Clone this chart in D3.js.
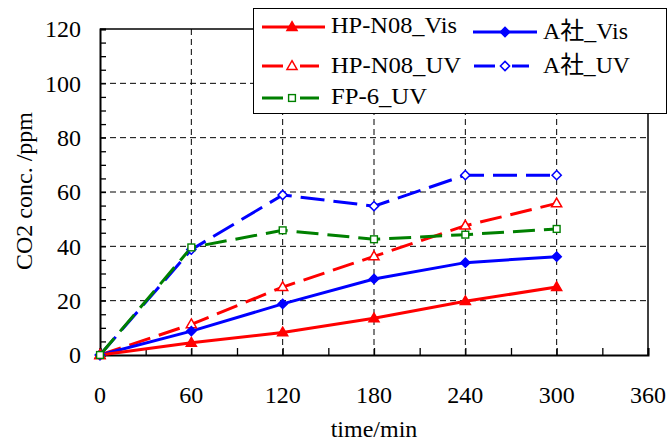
<!DOCTYPE html>
<html><head><meta charset="utf-8">
<script src="https://cdn.jsdelivr.net/npm/d3@7"></script>
<style>body{margin:0;background:#fff}svg{display:block}
text{font-family:"Liberation Serif","Times New Roman","DejaVu Serif","Noto Sans CJK JP",serif;}</style>
</head><body>
<script>
const time = [0, 60, 120, 180, 240, 300];
const hpVis = [0, 4.5, 8.3, 13.5, 19.8, 25.0];
const hpUV  = [0, 11.3, 25.0, 36.3, 47.6, 55.8];
const fpUV  = [0, 39.6, 45.9, 42.6, 44.3, 46.4];
const aVis  = [0, 8.8, 18.8, 28.0, 34.0, 36.2];
const aUV   = [0, 38.8, 58.9, 54.8, 66.2, 66.2];
const xTicks = [0, 60, 120, 180, 240, 300, 360];
const yTicks = [0, 20, 40, 60, 80, 100, 120];
const seriesNames = ["HP-N08_Vis", "A社_Vis", "HP-N08_UV", "A社_UV", "FP-6_UV"];

const W = 668, H = 441;

const svg = d3.select("body").append("svg").attr("width", W).attr("height", H);

const x = d3.scaleLinear().domain([0, 360]).range([100, 648]);
const y = d3.scaleLinear().domain([0, 120]).range([355, 29]);

// gridlines
const g = svg.append("g");
g.selectAll(".gy").data(yTicks.filter(v => v > 0 && v < 120)).join("line")
  .attr("x1", x(0)).attr("x2", x(360)).attr("y1", d => y(d)).attr("y2", d => y(d))
  .attr("stroke", "#000").attr("stroke-width", 1).attr("stroke-dasharray", "6,4");
g.selectAll(".gx").data(xTicks.filter(v => v > 0 && v < 360)).join("line")
  .attr("y1", y(0)).attr("y2", y(120)).attr("x1", d => x(d)).attr("x2", d => x(d))
  .attr("stroke", "#000").attr("stroke-width", 1).attr("stroke-dasharray", "6,4");

// frame
svg.append("line").attr("x1", x(0)).attr("x2", x(360)).attr("y1", y(120)).attr("y2", y(120)).attr("stroke", "#000").attr("stroke-width", 1.5);
svg.append("line").attr("x1", x(360)).attr("x2", x(360)).attr("y1", y(120)).attr("y2", y(0)).attr("stroke", "#000").attr("stroke-width", 1.5);

// axes
const yAxis = d3.axisLeft(y).tickValues(d3.range(0, 121, 5)).tickSize(-6).tickFormat("");
svg.append("g").attr("transform", `translate(${x(0)},0)`).call(yAxis)
  .call(s => { s.select(".domain").attr("stroke-width", 2); s.selectAll(".tick line").attr("stroke-width", 1.3); });
const xAxis = d3.axisBottom(x).tickValues(d3.range(0, 361, 30)).tickSize(-7).tickFormat("");
svg.append("g").attr("transform", `translate(0,${y(0)})`).call(xAxis)
  .call(s => { s.select(".domain").attr("stroke-width", 2); s.selectAll(".tick line").attr("stroke-width", 1.3); });

// tick labels
svg.selectAll(".yl").data(yTicks).join("text")
  .attr("x", 81).attr("y", d => y(d)).attr("dy", "0.35em").attr("text-anchor", "end")
  .attr("font-size", 24).text(d => d);
svg.selectAll(".xl").data(xTicks).join("text")
  .attr("x", d => x(d)).attr("y", 403).attr("text-anchor", "middle")
  .attr("font-size", 24).text(d => d);

svg.append("text").attr("x", 374).attr("y", 437).attr("text-anchor", "middle")
  .attr("font-size", 24).text("time/min");
svg.append("text").attr("transform", "translate(32,191) rotate(-90)").attr("text-anchor", "middle")
  .attr("font-size", 24).text("CO2 conc. /ppm");

// markers
function marker(sel, type, color, cx, cy) {
  if (type === "triFill" || type === "triOpen") {
    sel.append("path").attr("d", d3.symbol().type(d3.symbolTriangle).size(44)())
      .attr("transform", `translate(${cx},${cy + 0.5})`)
      .attr("fill", type === "triFill" ? color : "#fff").attr("stroke", color).attr("stroke-width", 1.5);
  } else if (type === "diaFill" || type === "diaOpen") {
    const r = 4.6;
    sel.append("path").attr("d", `M${cx},${cy - r}L${cx + r},${cy}L${cx},${cy + r}L${cx - r},${cy}Z`)
      .attr("fill", type === "diaFill" ? color : "#fff").attr("stroke", color).attr("stroke-width", 1.5);
  } else {
    const s = 6.8;
    sel.append("rect").attr("x", cx - s / 2).attr("y", cy - s / 2).attr("width", s).attr("height", s)
      .attr("fill", "#fff").attr("stroke", color).attr("stroke-width", 1.4);
  }
}

const series = [
  {name: seriesNames[3], vals: aUV, color: "#0000ff", dash: "24,9", m: "diaOpen"},
  {name: seriesNames[2], vals: hpUV, color: "#ff0000", dash: "22,9", m: "triOpen"},
  {name: seriesNames[1], vals: aVis, color: "#0000ff", dash: null, m: "diaFill"},
  {name: seriesNames[0], vals: hpVis, color: "#ff0000", dash: null, m: "triFill"},
  {name: seriesNames[4], vals: fpUV, color: "#008000", dash: "22,9", m: "sq"},
];
const line = d3.line().x(d => x(d[0])).y(d => y(d[1]));
series.forEach(s => {
  const pts = time.map((t, i) => [t, s.vals[i]]);
  const p = svg.append("path").attr("d", line(pts)).attr("fill", "none")
    .attr("stroke", s.color).attr("stroke-width", 3);
  if (s.dash) p.attr("stroke-dasharray", s.dash);
});
series.forEach(s => {
  const gm = svg.append("g");
  time.forEach((t, i) => marker(gm, s.m, s.color, x(t), y(s.vals[i])));
});

// legend
const lg = svg.append("g");
lg.append("rect").attr("x", 253.5).attr("y", 8.5).attr("width", 413).attr("height", 105)
  .attr("fill", "#fff").attr("stroke", "#000").attr("stroke-width", 1);
const leg = [
  {s: series[3], x0: 262, x1: 325, mx: 292, ly: 27, ty: 33, tx: 331, w: 126},
  {s: series[1], x0: 262, x1: 319, mx: 292, ly: 66, ty: 73, tx: 331, w: 130},
  {s: series[4], x0: 262, x1: 319, mx: 292, ly: 98, ty: 104, tx: 331, w: 96},
  {s: series[2], x0: 473, x1: 537, mx: 505, ly: 32, ty: 39, tx: 543, w: 85},
  {s: series[0], x0: 474, x1: 529, mx: 505, ly: 66, ty: 73, tx: 543, w: 87},
];
leg.forEach(e => {
  const l = lg.append("line").attr("x1", e.x0).attr("x2", e.x1).attr("y1", e.ly).attr("y2", e.ly)
    .attr("stroke", e.s.color).attr("stroke-width", 3);
  if (e.s.dash) l.attr("stroke-dasharray", "21,17");
  marker(lg, e.s.m, e.s.color, e.mx, e.ly);
  lg.append("text").attr("x", e.tx).attr("y", e.ty).attr("font-size", 24)
    .attr("textLength", e.w).attr("lengthAdjust", "spacingAndGlyphs").text(e.s.name);
});
</script>
</body></html>
